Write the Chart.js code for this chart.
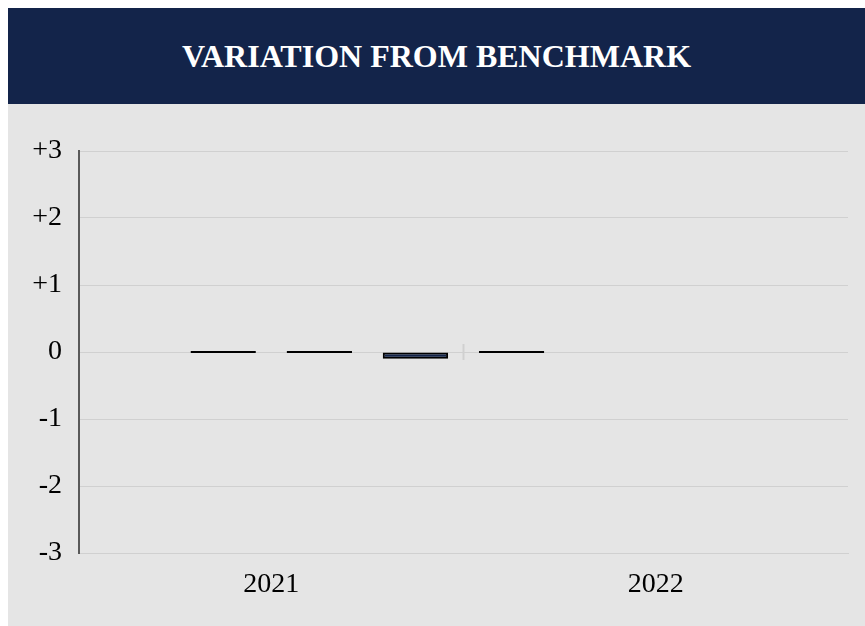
<!DOCTYPE html>
<html>
<head>
<meta charset="utf-8">
<script src="https://cdn.jsdelivr.net/npm/chart.js@4"></script>
<style>
  body { margin: 0; background: #ffffff; }
  #cabecalho {
    position: absolute; left: 8px; top: 8px; width: 857px; height: 96px;
    background: #13244a; color: #ffffff;
    font-family: "Liberation Serif", "Times New Roman", serif;
    font-weight: bold; font-size: 32px;
    display: flex; align-items: center; justify-content: center;
  }
  #painel {
    position: absolute; left: 8px; top: 104px; width: 857px; height: 522px;
    background: #e5e5e5;
  }
</style>
</head>
<body>
<div id="cabecalho">VARIATION FROM BENCHMARK</div>
<div id="painel"><canvas id="variacaoChart" width="857" height="522"></canvas></div>
<script>
// Categorias e valores de cada série
var anos = ['2021', '2022'];
var serie1 = [null, 0];
var serie2 = [0, null];
var serie3 = [0, null];
var serie4 = [-0.1, null];
var nomesSeries = ['Serie 1', 'Serie 2', 'Serie 3', 'Serie 4'];
var ticksY = [-3, -2, -1, 0, 1, 2, 3];

var corBarra = '#13244a';
var fonteSerif = 'Liberation Serif';

// Pequena marca vertical entre as categorias, sobre a linha do zero
var marcaCategoria = {
    id: 'marcaCategoria',
    afterDatasetsDraw: function(chart) {
        var x = chart.scales.x, y = chart.scales.y;
        var ctx = chart.ctx;
        var y0 = y.getPixelForValue(0);
        ctx.save();
        ctx.strokeStyle = '#d0d0d0';
        ctx.lineWidth = 2;
        for (var i = 0; i < anos.length - 1; i++) {
            var meio = (x.getPixelForValue(i) + x.getPixelForValue(i + 1)) / 2;
            ctx.beginPath();
            ctx.moveTo(meio, y0 - 8);
            ctx.lineTo(meio, y0 + 8);
            ctx.stroke();
        }
        ctx.restore();
    }
};

var series = [serie1, serie2, serie3, serie4];
var datasets = series.map(function(valores, i) {
    return {
        label: nomesSeries[i],
        data: valores,
        backgroundColor: corBarra,
        borderColor: '#000000',
        borderWidth: 2,
        borderSkipped: false,
        minBarLength: 2,
        categoryPercentage: 1,
        barPercentage: 0.68
    };
});

var ctx = document.getElementById('variacaoChart').getContext('2d');
var grafico = new Chart(ctx, {
    type: 'bar',
    data: { labels: anos, datasets: datasets },
    options: {
        responsive: false,
        animation: false,
        layout: { padding: { left: 0, right: 17, top: 47, bottom: 0 } },
        plugins: {
            legend: { display: false },
            title: { display: false },
            tooltip: { enabled: false }
        },
        scales: {
            x: {
                grid: { display: false, drawTicks: false },
                border: { display: true, color: '#d0d0d0', width: 1 },
                ticks: {
                    color: '#000000',
                    padding: 15,
                    font: { family: fonteSerif, size: 28 }
                },
                afterFit: function(scale) { scale.height = 73; }
            },
            y: {
                min: ticksY[0],
                max: ticksY[ticksY.length - 1],
                afterBuildTicks: function(scale) {
                    scale.ticks = ticksY.map(function(v) { return { value: v }; });
                },
                grid: { color: '#d0d0d0', lineWidth: 1, drawTicks: false },
                border: { display: true, color: '#595959', width: 2 },
                ticks: {
                    color: '#000000',
                    padding: 17,
                    font: { family: fonteSerif, size: 28 },
                    callback: function(v) { return v > 0 ? '+' + v : '' + v; }
                },
                afterFit: function(scale) { scale.width = 71; }
            }
        }
    },
    plugins: [marcaCategoria]
});
</script>
</body>
</html>
